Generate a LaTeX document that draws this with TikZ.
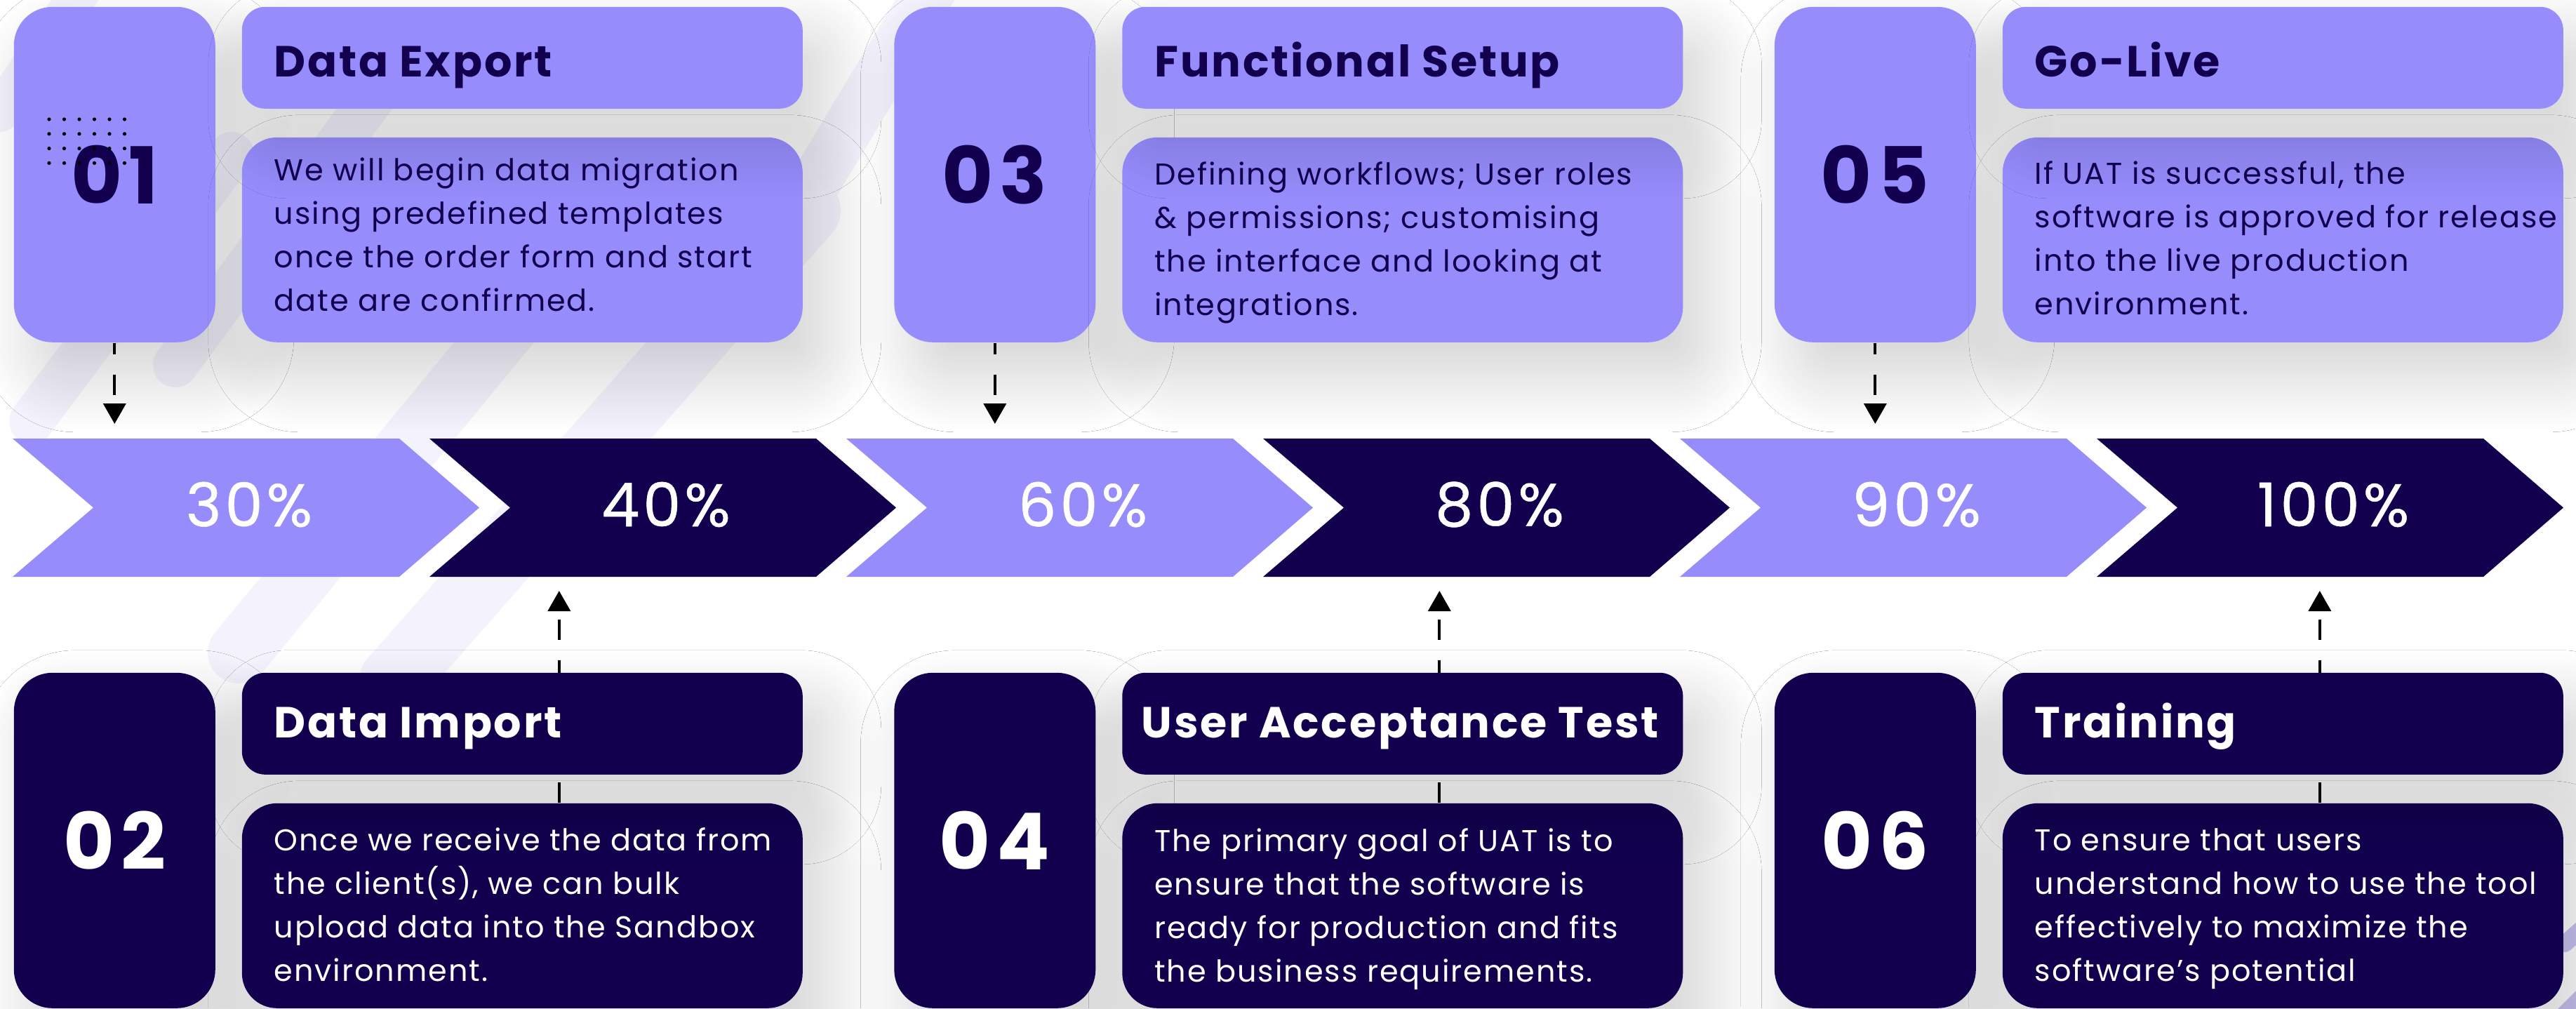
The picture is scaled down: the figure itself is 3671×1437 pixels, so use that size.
\documentclass[tikz,border=0pt]{standalone}
\usepackage{fontspec}
\setmainfont{Poppins}
\usetikzlibrary{arrows.meta,shadows.blur}
\definecolor{lav}{HTML}{968CFC}
\definecolor{navy}{HTML}{12004F}
\definecolor{pale}{HTML}{F4F3FD}
\definecolor{bandc}{HTML}{C9C3F0}
\tikzset{
  boxshadow/.style={blur shadow={shadow xshift=8pt, shadow yshift=-12pt, shadow blur radius=20pt, shadow blur steps=40, shadow opacity=18}},
  numbox/.style={rectangle, rounded corners=13.75pt, minimum width=71.75pt, minimum height=119.5pt, inner sep=0pt, anchor=north west, boxshadow},
  titlebox/.style={rectangle, rounded corners=8.25pt, minimum width=199.75pt, minimum height=36.25pt, inner sep=0pt, anchor=north west, boxshadow},
  descbox/.style={rectangle, rounded corners=12.5pt, minimum width=199.75pt, minimum height=73pt, inner sep=0pt, anchor=north west, boxshadow},
  numtext/.style={font=\fontsize{28}{28}\selectfont\bfseries\addfontfeature{LetterSpace=8}, inner sep=0pt},
  titletext/.style={font=\fontsize{15.5}{15.5}\selectfont\bfseries\addfontfeature{LetterSpace=4.5}, inner sep=0pt, anchor=base west},
  desctext/.style={font=\fontsize{10.75}{15.5}\selectfont\addfontfeature{LetterSpace=4.5}, inner sep=0pt, anchor=base west},
  pcttext/.style={font=\fontsize{21.5}{21.5}\selectfont\addfontfeature{LetterSpace=6,FakeBold=0.6}, text=white, inner sep=0pt},
  flow/.style={line width=1pt, dash pattern=on 7.25pt off 7.25pt, -{Triangle[length=7.25pt,width=8pt]}},
  bandstroke/.style={pale, line cap=round, line width=#1},
}
\begin{document}
\begin{tikzpicture}[x=0.25pt, y=-0.25pt]
\useasboundingbox (0,0) rectangle (3671,1437);
\clip (0,0) rectangle (3671,1437);
\fill[white] (0,0) rectangle (3671,1437);
% faint background strokes
\draw[bandstroke=16pt] (45,600) -- (330,220);
\draw[bandstroke=14pt] (0,160) -- (120,-20);
\draw[bandstroke=22pt] (340,930) -- (760,420);
\draw[bandstroke=24pt] (560,970) -- (1150,300);
\draw[bandstroke=18pt] (1120,330) -- (1330,-20);
\draw[bandstroke=16pt] (250,520) -- (560,100);
\draw[bandc, line cap=round, line width=6pt] (3650,1450) -- (3700,1400);
\draw[bandc, line cap=round, line width=6pt] (3655,1345) -- (3700,1305);
% number and description boxes
\node[numbox, fill=lav]  (n1) at (19,9) {};
\node[descbox, fill=lav] (d1) at (344,195) {};
\node[numbox, fill=navy]  (n2) at (19,958) {};
\node[descbox, fill=navy] (d2) at (344,1144) {};
\node[numbox, fill=lav]  (n3) at (1273.5,9) {};
\node[descbox, fill=lav] (d3) at (1598.5,195) {};
\node[numbox, fill=navy]  (n4) at (1273.5,958) {};
\node[descbox, fill=navy] (d4) at (1598.5,1144) {};
\node[numbox, fill=lav]  (n5) at (2528,9) {};
\node[descbox, fill=lav] (d5) at (2853,195) {};
\node[numbox, fill=navy]  (n6) at (2528,958) {};
\node[descbox, fill=navy] (d6) at (2853,1144) {};
% chevrons
\foreach \k/\c/\p in {0/lav/30,1/navy/40,2/lav/60,3/navy/80,4/lav/90,5/navy/100}{
  \fill[\c] ({18+594*\k},625) -- ++(551,0) -- ++(114,98.5) -- ++(-114,98.5) -- ++(-551,0) -- ++(115,-98.5) -- cycle;
  \coordinate (ct\k) at ({351+594*\k},625);
  \coordinate (cb\k) at ({351+594*\k},822);
  \node[pcttext] (p\k) at ({355+594*\k},719) {\p\%};
}
% connectors
\draw[flow, dash phase=3.25pt, shorten >=5.25pt] (n1.south) -- (n1.south |- ct0);
\draw[flow, dash phase=3.25pt, shorten >=5.25pt] (n3.south) -- (n3.south |- ct2);
\draw[flow, dash phase=3.25pt, shorten >=5.25pt] (n5.south) -- (n5.south |- ct4);
\draw[flow, shorten >=5pt] ([xshift=13.125pt]d2.north) -- ([xshift=13.125pt]d2.north |- cb1);
\draw[flow, shorten >=5pt] ([xshift=13.125pt]d4.north) -- ([xshift=13.125pt]d4.north |- cb3);
\draw[flow, shorten >=5pt] ([xshift=13.125pt]d6.north) -- ([xshift=13.125pt]d6.north |- cb5);
% title boxes
\node[titlebox, fill=lav]  (t1) at (344,9) {};
\node[titlebox, fill=navy] (t2) at (344,958) {};
\node[titlebox, fill=lav]  (t3) at (1598.5,9) {};
\node[titlebox, fill=navy] (t4) at (1598.5,958) {};
\node[titlebox, fill=lav]  (t5) at (2853,9) {};
\node[titlebox, fill=navy] (t6) at (2853,958) {};
% numbers
\node[numtext, text=navy]  (l1) at (n1.center) {01};
\node[numtext, text=white] (l2) at (n2.center) {02};
\node[numtext, text=navy]  (l3) at (n3.center) {03};
\node[numtext, text=white] (l4) at (n4.center) {04};
\node[numtext, text=navy]  (l5) at (n5.center) {05};
\node[numtext, text=white] (l6) at (n6.center) {06};
% titles
\node[titletext, text=navy]  (h1) at (390,109) {Data Export};
\node[titletext, text=white] (h2) at (390,1051) {Data Import};
\node[titletext, text=navy]  (h3) at (1644.5,109) {Functional Setup};
\node[titletext, text=white] (h4) at (1626,1051) {User Acceptance Test};
\node[titletext, text=navy]  (h5) at (2899,109) {Go-Live};
\node[titletext, text=white] (h6) at (2899,1051) {Training};
% descriptions
\node[desctext, text=navy] (b1) at (390,257) {\vtop{\hbox{We will begin data migration}\hbox{using predefined templates}\hbox{once the order form and start}\hbox{date are confirmed.}}};
\node[desctext, text=white] (b2) at (390,1212) {\vtop{\hbox{Once we receive the data from}\hbox{the client(s), we can bulk}\hbox{upload data into the Sandbox}\hbox{environment.}}};
\node[desctext, text=navy] (b3) at (1644.5,263) {\vtop{\hbox{Defining workflows; User roles}\hbox{\& permissions; customising}\hbox{the interface and looking at}\hbox{integrations.}}};
\node[desctext, text=white] (b4) at (1644.5,1213) {\vtop{\hbox{The primary goal of UAT is to}\hbox{ensure that the software is}\hbox{ready for production and fits}\hbox{the business requirements.}}};
\node[desctext, text=navy] (b5) at (2899,262) {\vtop{\hbox{If UAT is successful, the}\hbox{software is approved for release}\hbox{into the live production}\hbox{environment.}}};
\node[desctext, text=white] (b6) at (2899,1212) {\vtop{\hbox{To ensure that users}\hbox{understand how to use the tool}\hbox{effectively to maximize the}\hbox{software’s potential}}};
% dot pattern
\foreach \i in {0,...,5}{\foreach \j in {0,...,3}{
  \fill[black] ({70+21.5*\i},{170+20.8*\j}) circle[radius=0.65pt];
}}
\end{tikzpicture}
\end{document}
